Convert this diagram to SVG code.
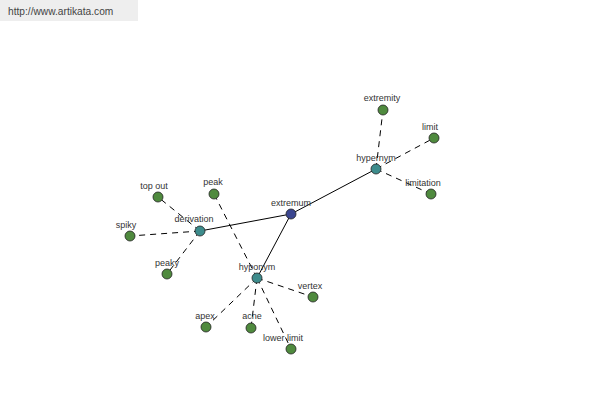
<svg xmlns="http://www.w3.org/2000/svg" width="600" height="400" viewBox="0 0 600 400">
<style>
text{font-family:"Liberation Sans",Arial,sans-serif;font-size:9px;fill:#333;text-anchor:middle}
.e{stroke:#000;stroke-width:1;fill:none}
.d{stroke-dasharray:6,5}
.n circle{stroke:#222;stroke-width:0.8}
.g circle{fill:#4f8a3e}
.t circle{fill:#3d8c8c}
.b circle{fill:#3b4690}
</style>
<rect x="0" y="0" width="138" height="21" fill="#eeeeee"/>
<text x="8" y="15" style="text-anchor:start;font-size:10.2px;fill:#444">http://www.artikata.com</text>
<g id="edges">
<line class="e" x1="291" y1="214" x2="376" y2="169"/>
<line class="e" x1="291" y1="214" x2="200" y2="231"/>
<line class="e" x1="291" y1="214" x2="257" y2="278"/>
<line class="e d" x1="376" y1="169" x2="383" y2="110"/>
<line class="e d" x1="376" y1="169" x2="434" y2="138"/>
<line class="e d" x1="376" y1="169" x2="431" y2="194"/>
<line class="e d" x1="200" y1="231" x2="158" y2="197"/>
<line class="e d" x1="200" y1="231" x2="130" y2="236"/>
<line class="e d" x1="200" y1="231" x2="167" y2="274"/>
<line class="e d" x1="257" y1="278" x2="214" y2="194"/>
<line class="e d" x1="257" y1="278" x2="313" y2="297"/>
<line class="e d" x1="257" y1="278" x2="206" y2="327"/>
<line class="e d" x1="257" y1="278" x2="251" y2="328"/>
<line class="e d" x1="257" y1="278" x2="291" y2="349"/>
</g>
<g id="extremum" class="n b"><circle cx="291" cy="214" r="5"/><text x="291" y="206">extremum</text></g>
<g id="hypernym" class="n t"><circle cx="376" cy="169" r="5"/><text x="376" y="161">hypernym</text></g>
<g id="derivation" class="n t"><circle cx="200" cy="231" r="5"/><text x="194" y="222">derivation</text></g>
<g id="hyponym" class="n t"><circle cx="257" cy="278" r="5"/><text x="257" y="270">hyponym</text></g>
<g id="extremity" class="n g"><circle cx="383" cy="110" r="5"/><text x="382" y="101">extremity</text></g>
<g id="limit" class="n g"><circle cx="434" cy="138" r="5"/><text x="430" y="130">limit</text></g>
<g id="limitation" class="n g"><circle cx="431" cy="194" r="5"/><text x="423" y="186">limitation</text></g>
<g id="top-out" class="n g"><circle cx="158" cy="197" r="5"/><text x="154" y="189">top out</text></g>
<g id="spiky" class="n g"><circle cx="130" cy="236" r="5"/><text x="126" y="228">spiky</text></g>
<g id="peaky" class="n g"><circle cx="167" cy="274" r="5"/><text x="167" y="266">peaky</text></g>
<g id="peak" class="n g"><circle cx="214" cy="194" r="5"/><text x="213" y="185">peak</text></g>
<g id="vertex" class="n g"><circle cx="313" cy="297" r="5"/><text x="310" y="289">vertex</text></g>
<g id="apex" class="n g"><circle cx="206" cy="327" r="5"/><text x="205" y="319">apex</text></g>
<g id="acne" class="n g"><circle cx="251" cy="328" r="5"/><text x="252" y="319">acne</text></g>
<g id="lower-limit" class="n g"><circle cx="291" cy="349" r="5"/><text x="283" y="341">lower limit</text></g>
</svg>
